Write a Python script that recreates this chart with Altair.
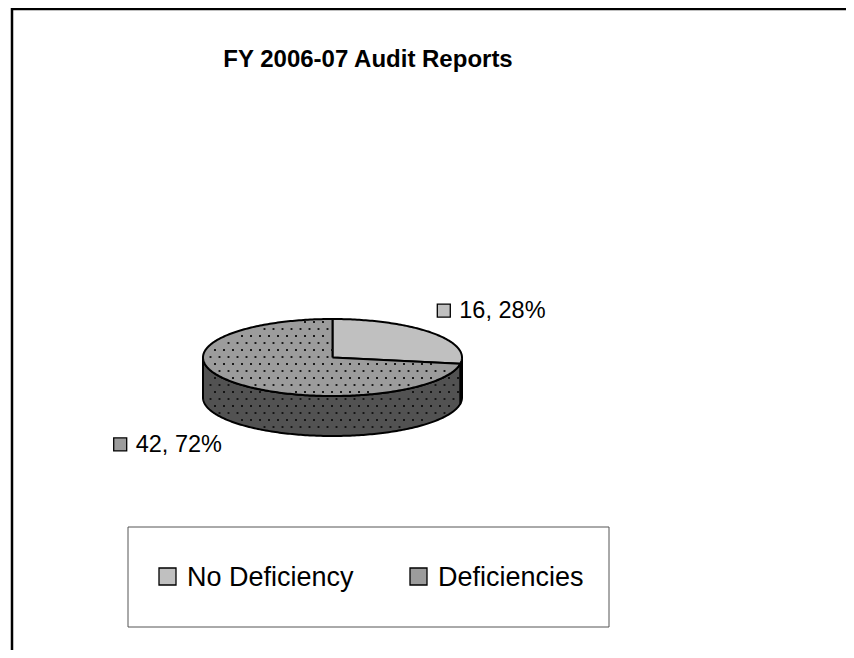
import altair as alt
import numpy as np
import pandas as pd

# ---------------- data ----------------
categories = ["No Deficiency", "Deficiencies"]
counts = [16, 42]
percents = [28, 72]
title_text = "FY 2006-07 Audit Reports"

# ---------------- layout (page pixels) ----------------
X0, Y0, W, H = 8, 8, 838, 642
CX, CY, RA, RB, DEPTH = 332.5, 357.5, 129.5, 38.5, 40
FONT = "Liberation Sans"

top_colors = ["#c0c0c0", "#9c9c9c"]
side_colors = ["#8a8a8a", "#525252"]
key_colors = ["#c0c0c0", "#858585"]

total = sum(counts)
fracs = [c / total for c in counts]
starts = np.concatenate([[0], np.cumsum(fracs)[:-1]]) * 360
ends = np.cumsum(fracs) * 360


def ex(t):
    return CX + RA * np.sin(np.radians(t))


def ey(t):
    return CY - RB * np.cos(np.radians(t))


side_rows, top_rows = [], []
for i, cat in enumerate(categories):
    s, e = starts[i], ends[i]
    s2, e2 = max(s, 90.0), min(e, 270.0)
    if e2 > s2:
        ts = np.linspace(s2, e2, int(e2 - s2) + 2)
        pts = [(ex(t), ey(t)) for t in ts] + [(ex(t), ey(t) + DEPTH) for t in ts[::-1]]
        pts.append(pts[0])
        for k, (x, y) in enumerate(pts):
            side_rows.append(dict(poly=f"side{i}", face=f"side_{i}", i=k, x=x, y=y))
    ts = np.linspace(s, e, int(e - s) + 2)
    pts = [(CX, CY)] + [(ex(t), ey(t)) for t in ts] + [(CX, CY)]
    for k, (x, y) in enumerate(pts):
        top_rows.append(dict(poly=f"top{i}", face=f"top_{i}", i=k, x=x, y=y))

side_df = pd.DataFrame(side_rows)
top_df = pd.DataFrame(top_rows)

# dotted texture for the "Deficiencies" slice
di = categories.index("Deficiencies")
ds, de = starts[di], ends[di]
dots = []
for r, gy in enumerate(np.arange(CY - RB + 3, CY + RB + DEPTH, 7.0)):
    off = 4.5 if r % 2 else 0.0
    for gx in np.arange(CX - RA + 3 + off, CX + RA, 9.0):
        u = (gx - CX) / RA
        v = (gy - CY) / RB
        if u * u + v * v < 0.9:
            ang = np.degrees(np.arctan2(u, -v)) % 360
            if ds + 3 < ang < de - 1:
                dots.append(dict(x=gx, y=gy))
        elif abs(u) < 0.97:
            ytop = CY + RB * np.sqrt(1 - u * u)
            tf = 180 - np.degrees(np.arcsin(u))
            if ytop + 2.5 < gy < ytop + DEPTH - 2.5 and ds + 1 < tf < de:
                dots.append(dict(x=gx, y=gy))
dots_df = pd.DataFrame(dots)

# data labels
GRP = 114
lab = []
for i, cat in enumerate(categories):
    mid = (starts[i] + ends[i]) / 2
    sx, cy_ = np.sin(np.radians(mid)), np.cos(np.radians(mid))
    kx = CX + (RA + 8) * sx - (GRP if sx < 0 else 0)
    ky = CY - (RB + 34) * cy_ + (DEPTH if cy_ < 0 else 0)
    lab.append(dict(cat=cat, kx=kx, kx2=kx + 13, ky=ky - 6.5, ky2=ky + 6.5,
                    tx=kx + 22, ty=ky + 7.5, text=f"{counts[i]}, {percents[i]}%"))
lab_df = pd.DataFrame(lab)

# legend
leg_x = [159, 410]
leg_df = pd.DataFrame(dict(cat=categories, kx=leg_x, kx2=[v + 17 for v in leg_x],
                           ky=[568] * 2, ky2=[585] * 2,
                           tx=[v + 28 for v in leg_x], ty=[586] * 2))
box_df = pd.DataFrame(dict(x=[128], x2=[609], y=[527], y2=[627]))
border_df = pd.DataFrame(dict(x=[12, 12], x2=[12, X0 + W], y=[Y0, 9], y2=[Y0 + H, 9]))
title_df = pd.DataFrame(dict(x=[368], y=[67], text=[title_text]))

xs = alt.Scale(domain=[X0, X0 + W], nice=False, zero=False)
ys = alt.Scale(domain=[Y0, Y0 + H], nice=False, zero=False, reverse=True)
X = lambda f: alt.X(f, type="quantitative", scale=xs, axis=None)
Y = lambda f: alt.Y(f, type="quantitative", scale=ys, axis=None)

face_scale = alt.Scale(domain=["top_0", "top_1", "side_0", "side_1"],
                       range=top_colors + side_colors)
cat_scale = alt.Scale(domain=categories, range=key_colors)

sides = alt.Chart(side_df).mark_line(stroke="black", strokeWidth=2, strokeJoin="round").encode(
    x=X("x"), y=Y("y"), order=alt.Order("i:Q"), detail="poly:N",
    fill=alt.Fill("face:N", scale=face_scale, legend=None))
tops = alt.Chart(top_df).mark_line(stroke="black", strokeWidth=2, strokeJoin="round").encode(
    x=X("x"), y=Y("y"), order=alt.Order("i:Q"), detail="poly:N",
    fill=alt.Fill("face:N", scale=face_scale, legend=None))
dot_layer = alt.Chart(dots_df).mark_square(size=3.5, color="#111111", opacity=1).encode(
    x=X("x"), y=Y("y"))

lab_keys = alt.Chart(lab_df).mark_rect(stroke="black", strokeWidth=1.3).encode(
    x=X("kx"), x2="kx2", y=Y("ky"), y2="ky2",
    fill=alt.Fill("cat:N", scale=cat_scale, legend=None))
lab_text = alt.Chart(lab_df).mark_text(align="left", baseline="alphabetic", font=FONT,
                                       fontSize=23.5, color="black").encode(
    x=X("tx"), y=Y("ty"), text="text:N")

box = alt.Chart(box_df).mark_rect(fill="white", stroke="#555555", strokeWidth=1).encode(
    x=X("x"), x2="x2", y=Y("y"), y2="y2")
leg_keys = alt.Chart(leg_df).mark_rect(stroke="black", strokeWidth=1.3).encode(
    x=X("kx"), x2="kx2", y=Y("ky"), y2="ky2",
    fill=alt.Fill("cat:N", scale=cat_scale, legend=None))
leg_text = alt.Chart(leg_df).mark_text(align="left", baseline="alphabetic", font=FONT,
                                       fontSize=27, color="black").encode(
    x=X("tx"), y=Y("ty"), text="cat:N")

borders = alt.Chart(border_df).mark_rule(color="black", strokeWidth=2.5).encode(
    x=X("x"), x2="x2", y=Y("y"), y2="y2")
title = alt.Chart(title_df).mark_text(align="center", baseline="alphabetic", font=FONT,
                                      fontSize=24, fontWeight="bold", color="black").encode(
    x=X("x"), y=Y("y"), text="text:N")

chart = alt.layer(borders, title, sides, tops, dot_layer, lab_keys, lab_text,
                  box, leg_keys, leg_text).properties(
    width=W, height=H, padding=0, autosize=alt.AutoSizeParams(type="none"),
    background="white").configure_view(strokeWidth=0)

chart.save("out.html", embed_options={"renderer": "svg", "actions": False})
